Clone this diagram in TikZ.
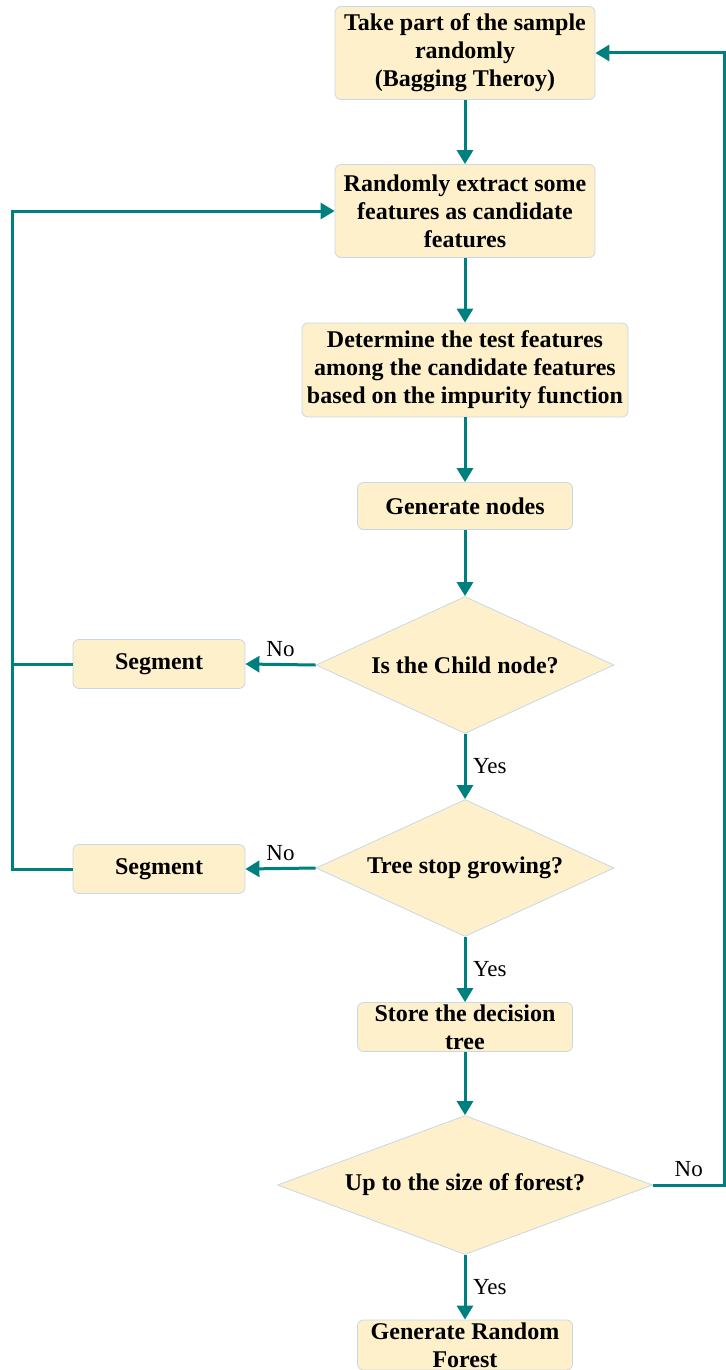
\documentclass[tikz,border=0pt]{standalone}
\usepackage{fontspec}
\setmainfont{Liberation Serif}
\usetikzlibrary{shapes.geometric,arrows.meta}

\definecolor{boxfill}{HTML}{FDF0CA}
\definecolor{boxline}{HTML}{C8D8E6}
\definecolor{flowline}{HTML}{007F7F}

\begin{document}
\begin{tikzpicture}[x=0.5pt,y=-0.5pt,
    stepbox/.style={draw=boxline, line width=0.4pt, fill=boxfill, rounded corners=3pt,
        align=center, inner sep=1pt, font=\fontsize{12}{14}\selectfont\bfseries},
    ask/.style={diamond, shape aspect=2.2, draw=boxline, line width=0.4pt, fill=boxfill,
        inner sep=0pt, font=\fontsize{12}{14}\selectfont\bfseries},
    flow/.style={draw=flowline, line width=1.5pt, -{Triangle[length=7pt,width=8pt]}},
    link/.style={draw=flowline, line width=1.5pt},
    lbl/.style={font=\fontsize{11.5}{13}\selectfont}]
\useasboundingbox (0,0) rectangle (726,1370);
\def\cx{465} % x of the main column

% main column
\node[stepbox, minimum width=130pt, minimum height=46.5pt] (sample) at (\cx,53)
    {Take part of the sample\\randomly\\(Bagging Theroy)};
\node[stepbox, minimum width=130pt, minimum height=46.5pt] (extract) at (\cx,211)
    {Randomly extract some\\features as candidate\\features};
\node[stepbox, minimum width=163pt, minimum height=47pt] (determine) at (\cx,370)
    {Determine the test features\\among the candidate features\\based on the impurity function};
\node[stepbox, minimum width=107.5pt, minimum height=23.5pt] (gennodes) at (\cx,506)
    {Generate nodes};
\node[ask, minimum width=149pt, minimum height=68.5pt] (child) at (\cx,665)
    {Is the Child node?};
\node[ask, minimum width=149pt, minimum height=68.5pt] (stop) at (\cx,868)
    {Tree stop growing?};
\node[stepbox, minimum width=107.5pt, minimum height=24.5pt] (store) at (\cx,1027)
    {Store the decision\\tree};
\node[ask, minimum width=187.5pt, minimum height=69.5pt] (size) at (\cx,1185)
    {Up to the size of forest?};
\node[stepbox, minimum width=107.5pt, minimum height=25pt] (forest) at (\cx,1345)
    {Generate Random\\Forest};

% side boxes
\node[stepbox, minimum width=86pt, minimum height=24.5pt] (seg1) at (159,664) {Segment};
\node[stepbox, minimum width=86pt, minimum height=24.5pt] (seg2) at (159,869) {Segment};

% loop lines
\coordinate (lft) at (12,0);
\coordinate (rgt) at (724.5,0);

\draw[flow] (sample) -- (extract);
\draw[flow] (extract) -- (determine);
\draw[flow] (determine) -- (gennodes);
\draw[flow] (gennodes) -- (child);
\draw[flow] (child) -- node[lbl, right] {Yes} (stop);
\draw[flow] (stop) -- node[lbl, right] {Yes} (store);
\draw[flow] (store) -- (size);
\draw[flow] (size) -- node[lbl, right] {Yes} (forest);

\draw[flow] (child.west) -- node[lbl, above] {No} (seg1.east);
\draw[flow] (stop.west) -- node[lbl, above] {No} (seg2.east);
\draw[link] (seg1.west) -- (seg1.west -| lft);
\draw[flow] (seg2.west) -- (seg2.west -| lft) |- (extract.west);
\draw[flow] (size.east) -- node[lbl, above] {No} (size.east -| rgt) |- (sample.east);
\end{tikzpicture}
\end{document}
